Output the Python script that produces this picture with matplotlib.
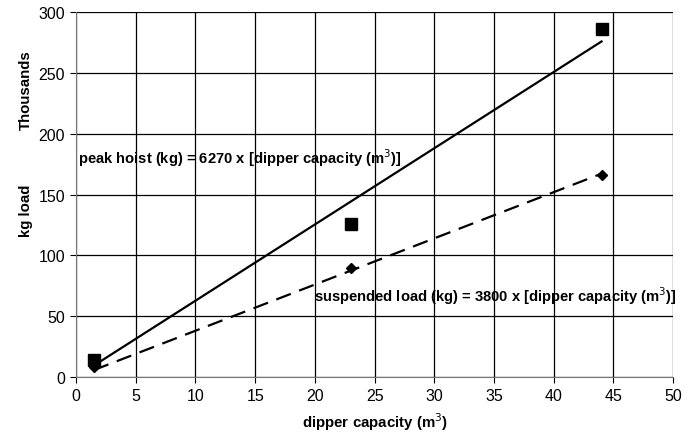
import matplotlib.pyplot as plt

plt.rcParams['font.family'] = ['Liberation Sans', 'DejaVu Sans']

# measured points (dipper capacity m3, load in thousands kg)
capacity = [1.5, 23, 44]
peak_hoist = [14, 126, 286]
suspended = [8, 90, 166]

# trendline end points
fit_x = [1.5, 44]
peak_fit = [9.4, 275.9]
susp_fit = [5.7, 167.2]

fig = plt.figure(figsize=(6.94, 4.39), dpi=100)
ax = fig.add_axes([0.1095, 0.139, 0.8605, 0.831])

ax.plot(fit_x, peak_fit, color='black', lw=1.6, zorder=3)
ax.plot(fit_x, susp_fit, color='black', lw=1.6, ls=(0, (7, 4)), zorder=3)
ax.plot(capacity, peak_hoist, ls='none', marker='s', ms=8, color='black', zorder=4)
ax.plot(capacity, suspended, ls='none', marker='D', ms=5.5, color='black', zorder=4)

ax.set_xlim(0, 50)
ax.set_ylim(0, 300)
ax.set_xticks(range(0, 51, 5))
ax.set_yticks(range(0, 301, 50))
ax.grid(True, color='black', lw=0.9)
ax.set_axisbelow(True)
for s in ['top', 'right']:
    ax.spines[s].set_visible(False)
ax.spines['left'].set_color('#777777')
ax.spines['bottom'].set_color('#777777')
ax.tick_params(axis='both', labelsize=11.5, length=4, color='black', pad=4)

ax.set_xlabel('dipper capacity (m$^3$)', fontsize=10.8, fontweight='bold', labelpad=5)
fig.text(0.038, 0.52, 'kg load', rotation=90, fontsize=10.8, fontweight='bold',
         ha='center', va='center')
fig.text(0.038, 0.795, 'Thousands', rotation=90, fontsize=10.8, fontweight='bold',
         ha='center', va='center')

ax.text(0.2, 181, 'peak hoist (kg) = 6270 x [dipper capacity (m$^3$)]',
        fontsize=10.6, fontweight='bold', va='center', ha='left')
ax.text(19.9, 67, 'suspended load (kg) = 3800 x [dipper capacity (m$^3$)]',
        fontsize=10.6, fontweight='bold', va='center', ha='left')

fig.savefig('out.png', dpi=100, facecolor='white')
